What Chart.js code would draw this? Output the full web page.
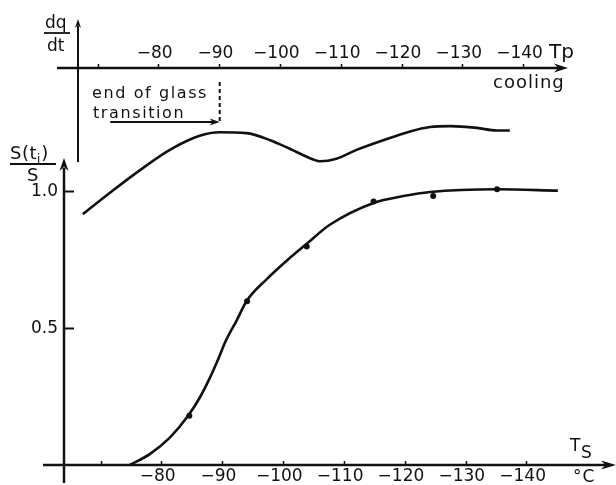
<!DOCTYPE html>
<html>
<head>
<meta charset="utf-8">
<title>S(ti)/S and dq/dt vs temperature</title>
<script src="https://cdn.jsdelivr.net/npm/chart.js@4/dist/chart.umd.min.js"></script>
<style>
  html, body { margin: 0; padding: 0; background: #fff; }
  canvas { display: block; }
</style>
</head>
<body>
<canvas id="chart" width="616" height="485"></canvas>
<script>

// lower plot: S(ti)/S against Ts (deg C)
var sCurveTemp = [-74.7, -78.0, -81.3, -84.3, -86.3, -87.9, -89.3, -90.4, -92.3, -93.9, -97.2, -100.6, -103.8, -107.6, -114.8, -119.7, -124.1, -135.1, -145.1];
var sCurveVal = [0, 0.04, 0.10, 0.18, 0.25, 0.32, 0.39, 0.45, 0.53, 0.60, 0.68, 0.75, 0.81, 0.88, 0.96, 0.985, 1.0, 1.01, 1.005];
var sPointTemp = [-84.5, -94.0, -103.8, -114.8, -124.6, -135.1];
var sPointVal = [0.18, 0.60, 0.80, 0.965, 0.985, 1.01];

// upper plot: dq/dt (arbitrary units) against Tp (deg C)
var dqTemp = [-67.5, -71.9, -76.9, -81.8, -86.7, -90.0, -94.4, -98.3, -101.6, -105.4, -106.5, -109.2, -112.5, -116.9, -121.3, -124.6, -127.9, -132.3, -135.5, -137.7];
var dqVal = [0.01, 0.25, 0.51, 0.74, 0.90, 0.94, 0.93, 0.85, 0.75, 0.63, 0.61, 0.64, 0.74, 0.85, 0.95, 1.00, 1.01, 0.99, 0.96, 0.96];

var tempTicks = [-70, -80, -90, -100, -110, -120, -130, -140];
var sTicks = [0.5, 1.0];
var glassEndTemp = -90;
var glassArrowFrom = -72;
var dqAxisTemp = -66.7;

var FONT = '"DejaVu Sans", sans-serif';
var INK = '#111';

function toXY(xs, ys) {
    return xs.map(function (v, i) {
        return {x: v, y: ys[i]};
    });
}

function tempLabel(v) {
    if (v === -70) {
        return '';
    }
    // trailing en space keeps the digits (not the minus) over the tick
    return '\u2212' + Math.abs(v) + '\u2002';
}

function txt(ctx, s, x, y, size, spacing) {
    ctx.font = size + 'px ' + FONT;
    ctx.letterSpacing = (spacing || 0) + 'px';
    ctx.fillText(s, x, y);
    var w = ctx.measureText(s).width;
    ctx.letterSpacing = '0px';
    return w;
}

function line(ctx, x1, y1, x2, y2) {
    ctx.beginPath();
    ctx.moveTo(x1, y1);
    ctx.lineTo(x2, y2);
    ctx.stroke();
}

function arrowRight(ctx, x, y, len, half) {
    ctx.beginPath();
    ctx.moveTo(x, y);
    ctx.lineTo(x - len, y - half);
    ctx.lineTo(x - len * 0.7, y);
    ctx.lineTo(x - len, y + half);
    ctx.closePath();
    ctx.fill();
}

function arrowUp(ctx, x, y, len, half) {
    ctx.beginPath();
    ctx.moveTo(x, y);
    ctx.lineTo(x - half, y + len);
    ctx.lineTo(x, y + len * 0.7);
    ctx.lineTo(x + half, y + len);
    ctx.closePath();
    ctx.fill();
}

var drawAxes = {
    id: 'drawAxes',
    afterDraw: function (chart) {
        var ctx = chart.ctx;
        var x2 = chart.scales.x2;
        var ys = chart.scales.y;
        var area = chart.chartArea;

        var y0 = ys.getPixelForValue(0);
        var yTop = x2.bottom;
        var xS = area.left;
        var xDq = x2.getPixelForValue(dqAxisTemp);
        var xGlass = x2.getPixelForValue(glassEndTemp);

        ctx.save();
        ctx.strokeStyle = INK;
        ctx.fillStyle = INK;
        ctx.lineCap = 'butt';
        ctx.lineWidth = 2.5;

        // Ts axis
        line(ctx, xS - 21, y0, chart.width - 8, y0);
        arrowRight(ctx, chart.width, y0, 15, 4.5);
        // S axis
        line(ctx, xS, y0 + 18, xS, 168);
        arrowUp(ctx, xS, 158, 13, 4.5);
        // Tp axis
        line(ctx, xS - 7, yTop, 560, yTop);
        arrowRight(ctx, 568, yTop, 14, 4.5);
        // dq/dt axis
        ctx.lineWidth = 2;
        line(ctx, xDq, 162, xDq, 26);
        arrowUp(ctx, xDq, 19, 9, 3);

        // end of glass transition marker
        ctx.setLineDash([4, 3]);
        line(ctx, xGlass, 82, xGlass, 122);
        ctx.setLineDash([]);
        line(ctx, x2.getPixelForValue(glassArrowFrom), 122, xGlass - 6, 122);
        arrowRight(ctx, xGlass, 122, 10, 3.5);

        ctx.textBaseline = 'alphabetic';
        ctx.textAlign = 'left';
        txt(ctx, 'end of glass', 92, 98, 16, 1.6);
        txt(ctx, 'transition', 93, 118, 16, 1.6);
        txt(ctx, 'cooling', 493, 88, 18, 1);
        txt(ctx, 'Tp', 549, 58, 20, 0);

        // Ts and deg C
        txt(ctx, 'T', 570, 451, 17, 0);
        txt(ctx, 'S', 581, 458, 17, 0);
        txt(ctx, '\u00b0C', 573, 482, 17, 1);

        // dq/dt fraction
        txt(ctx, 'dq', 45, 28, 17, 0);
        ctx.lineWidth = 1.8;
        line(ctx, 44, 33, 70, 33);
        txt(ctx, 'dt', 47, 51, 17, 0);

        // S(ti)/S fraction
        var w = txt(ctx, 'S(t', 10, 159, 18, 0.5);
        var wi = txt(ctx, 'i', 10 + w, 163, 12, 0);
        txt(ctx, ')', 10 + w + wi + 1, 159, 18, 0);
        line(ctx, 10, 164, 56, 164);
        txt(ctx, 'S', 27, 181, 18, 0);

        ctx.restore();
    }
};

var ctx = document.getElementById('chart');

var chart = new Chart(ctx, {
    type: 'line',
    data: {
        datasets: [
            {
                label: 'dq/dt',
                data: toXY(dqTemp, dqVal),
                xAxisID: 'x2',
                yAxisID: 'y2',
                borderColor: INK,
                borderWidth: 2.6,
                pointRadius: 0,
                cubicInterpolationMode: 'monotone',
                fill: false
            },
            {
                label: 'S(ti)/S curve',
                data: toXY(sCurveTemp, sCurveVal),
                xAxisID: 'x',
                yAxisID: 'y',
                borderColor: INK,
                borderWidth: 2.6,
                pointRadius: 0,
                cubicInterpolationMode: 'monotone',
                fill: false
            },
            {
                label: 'S(ti)/S measured',
                data: toXY(sPointTemp, sPointVal),
                xAxisID: 'x',
                yAxisID: 'y',
                showLine: false,
                pointRadius: 3,
                pointBackgroundColor: INK,
                pointBorderColor: INK,
                pointBorderWidth: 0
            }
        ]
    },
    options: {
        responsive: false,
        animation: false,
        events: [],
        layout: {padding: {left: 0, right: 4, top: 0, bottom: 0}},
        plugins: {
            legend: {display: false},
            tooltip: {enabled: false}
        },
        scales: {
            x: {
                type: 'linear',
                position: 'bottom',
                reverse: true,
                min: -154.0,
                max: -63.9,
                afterBuildTicks: function (scale) {
                    scale.ticks = tempTicks.map(function (v) { return {value: v}; });
                },
                afterFit: function (scale) { scale.height = 20; },
                border: {display: false},
                grid: {drawOnChartArea: false, drawTicks: true, tickLength: -4, tickWidth: 1.5, tickColor: INK},
                ticks: {
                    autoSkip: false,
                    maxRotation: 0,
                    padding: 5,
                    color: INK,
                    font: {family: FONT, size: 17, lineHeight: 1.2},
                    callback: tempLabel
                }
            },
            x2: {
                type: 'linear',
                position: 'top',
                reverse: true,
                min: -154.5,
                max: -64.4,
                afterBuildTicks: function (scale) {
                    scale.ticks = tempTicks.map(function (v) { return {value: v}; });
                },
                afterFit: function (scale) { scale.height = 68; },
                border: {display: false},
                grid: {drawOnChartArea: false, drawTicks: true, tickLength: 4, tickWidth: 1.5, tickColor: INK},
                ticks: {
                    autoSkip: false,
                    maxRotation: 0,
                    padding: 0,
                    color: INK,
                    font: {family: FONT, size: 17, lineHeight: 1.2},
                    callback: tempLabel
                }
            },
            y: {
                type: 'linear',
                position: 'left',
                min: 0,
                max: 1.4542,
                afterBuildTicks: function (scale) {
                    scale.ticks = sTicks.map(function (v) { return {value: v}; });
                },
                afterFit: function (scale) {
                    scale.width = 64;
                    scale.paddingTop = 0;
                    scale.paddingBottom = 0;
                },
                border: {display: false},
                grid: {drawOnChartArea: false, drawTicks: true, tickLength: -10, tickWidth: 2, tickColor: INK},
                ticks: {
                    padding: 16,
                    color: INK,
                    font: {family: FONT, size: 17},
                    callback: function (v) { return v.toFixed(1); }
                }
            },
            y2: {
                type: 'linear',
                display: false,
                position: 'right',
                min: -2.8409,
                max: 1.6705
            }
        }
    },
    plugins: [drawAxes]
});
</script>
</body>
</html>
